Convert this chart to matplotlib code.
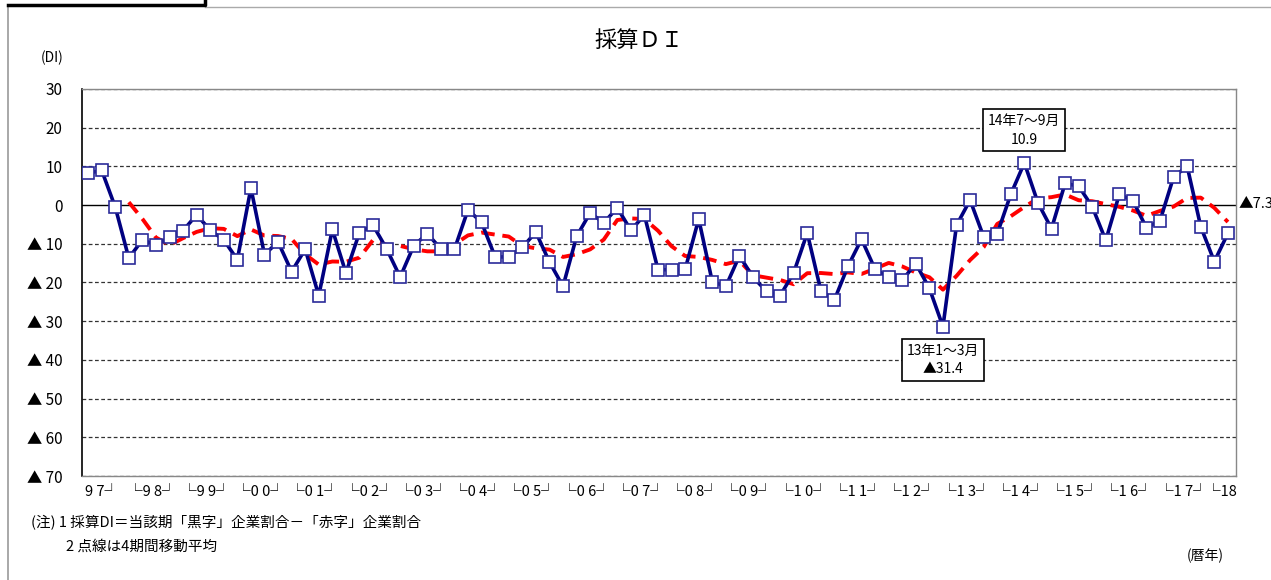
import numpy as np
import pandas as pd
import matplotlib.pyplot as plt
from matplotlib.lines import Line2D

plt.rcParams['font.family'] = ['Noto Sans CJK JP', 'DejaVu Sans']

# 採算DI (四半期, 1997年4~6月 ~ 2018年4~6月)
di = [8.2, 9.0, -0.5,
      -13.7, -9.0, -10.3, -8.3,
      -6.6, -2.5, -6.5, -9.0,
      -14.1, 4.4, -12.8, -9.5,
      -17.2, -11.4, -23.4, -6.3,
      -17.5, -7.1, -5.2, -11.3,
      -18.6, -10.5, -7.4, -11.3,
      -11.4, -1.2, -4.5, -13.4,
      -13.4, -10.9, -7.0, -14.7,
      -21.0, -8.1, -2.0, -4.6,
      -0.7, -6.5, -2.6, -16.7,
      -16.7, -16.6, -3.6, -19.8,
      -21.0, -13.1, -18.6, -22.3,
      -23.4, -17.5, -7.2, -22.1,
      -24.5, -15.8, -8.8, -16.6,
      -18.6, -19.4, -15.1, -21.5,
      -31.4, -5.2, 1.3, -8.2,
      -7.4, 2.8, 10.9, 0.6,
      -6.1, 5.6, 4.9, -0.4,
      -9.1, 2.8, 1.1, -5.9,
      -4.0, 7.3, 10.0, -5.6,
      -14.6, -7.3]
years = ['97', '98', '99', '00', '01', '02', '03', '04', '05', '06', '07',
         '08', '09', '10', '11', '12', '13', '14', '15', '16', '17', '18']
yticks = [30, 20, 10, 0, -10, -20, -30, -40, -50, -60, -70]

x = np.arange(len(di))
ma = pd.Series(di).rolling(4).mean()

fig = plt.figure(figsize=(12.71, 5.8), dpi=100)
ax = fig.add_axes([0.0645, 0.1793, 0.908, 0.6673])

for v in yticks:
    if v == 0:
        ax.axhline(v, color='black', lw=1.0, zorder=1)
    else:
        ax.axhline(v, color='#333333', lw=0.9, ls=(0, (3, 2)), zorder=1)

ax.plot(x, di, color='#000080', lw=2.6, marker='s', ms=8,
        mfc='white', mec='#2b2b99', mew=1.2, zorder=3)
ax.plot(x, ma, color='#ff0000', lw=2.8, ls=(0, (3.5, 2)), zorder=2)

ax.set_xlim(-0.45, 84.6)
ax.set_ylim(-70, 30)
ax.set_xticks([])
ax.set_yticks(yticks)
ax.set_yticklabels([str(v) if v >= 0 else '▲ %d' % -v for v in yticks],
                   fontsize=11)
ax.tick_params(axis='y', length=0, pad=14)
ax.spines['left'].set_color('black')
ax.spines['left'].set_linewidth(1.2)
for s in ['top', 'right', 'bottom']:
    ax.spines[s].set_color('#888888')
    ax.spines[s].set_linewidth(1.0)

# 年ラベル
for i, y in enumerate(years):
    if i == 0:
        ax.text(1.0, -72.2, '9 7┘', ha='center', va='top', fontsize=10.5)
    elif y == '18':
        ax.text(83.5, -72.2, '└18', ha='center', va='top', fontsize=10.5)
    else:
        c = 3 + 4 * (i - 1) + 1.7
        ax.text(c, -72.2, '└' + y[0] + ' ' + y[1] + '┘', ha='center', va='top',
                fontsize=10.5)

# 吹き出し
ax.annotate('14年7～9月\n10.9', xy=(69, 10.9), xytext=(69, 19.3),
            ha='center', va='center', fontsize=10, linespacing=1.4,
            bbox=dict(boxstyle='square,pad=0.35', fc='white', ec='black', lw=1.2))
ax.annotate('13年1～3月\n▲31.4', xy=(63, -31.4), xytext=(63, -40.0),
            ha='center', va='center', fontsize=10, linespacing=1.4,
            bbox=dict(boxstyle='square,pad=0.35', fc='white', ec='black', lw=1.2))
ax.text(84.75, 0.3, '▲7.3', ha='left', va='center', fontsize=10.5,
        clip_on=False)

fig.text(0.503, 0.93, '採算ＤＩ', ha='center', va='center', fontsize=16)
fig.text(0.032, 0.9, '(DI)', ha='left', va='center', fontsize=10)
fig.text(0.024, 0.098, '(注) 1 採算DI＝当該期「黒字」企業割合－「赤字」企業割合',
         ha='left', va='center', fontsize=10.5)
fig.text(0.052, 0.058, '2 点線は4期間移動平均', ha='left', va='center', fontsize=10.5)
fig.text(0.934, 0.041, '(暦年)', ha='left', va='center', fontsize=10)

# ページ枠
fig.add_artist(Line2D([8 / 1271, 8 / 1271], [0, 1 - 6 / 580],
                      transform=fig.transFigure, color='#999999', lw=1.2))
fig.add_artist(Line2D([205 / 1271, 1], [1 - 7 / 580, 1 - 7 / 580],
                      transform=fig.transFigure, color='#aaaaaa', lw=1.0))
fig.add_artist(Line2D([8 / 1271, 205 / 1271, 205 / 1271],
                      [1 - 5 / 580, 1 - 5 / 580, 1],
                      transform=fig.transFigure, color='black', lw=2.5))

fig.savefig('out.png', dpi=100)
